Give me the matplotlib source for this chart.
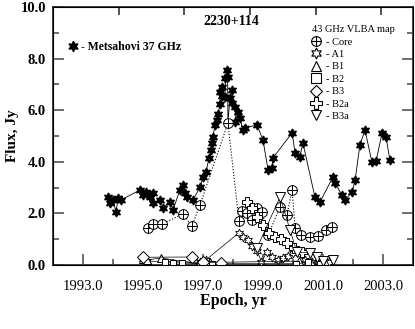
import numpy as np
import matplotlib
matplotlib.use("Agg")
import matplotlib.pyplot as plt
from matplotlib.path import Path
from matplotlib.lines import Line2D

plt.rcParams['font.family'] = ['Liberation Serif', 'DejaVu Serif']

# Metsahovi 37 GHz
met_t = [1993.83, 1993.90, 1994.00, 1994.10, 1994.17, 1994.27, 1994.90, 1995.00, 1995.10,
         1995.23, 1995.33, 1995.35, 1995.57, 1995.67, 1995.90, 1996.00, 1996.23, 1996.33,
         1996.40, 1996.47, 1996.67, 1996.90, 1997.00, 1997.10, 1997.20, 1997.27, 1997.30,
         1997.33, 1997.40, 1997.47, 1997.50, 1997.57, 1997.58, 1997.63, 1997.65, 1997.73,
         1997.75, 1997.80, 1997.82, 1997.83, 1997.90, 1997.97, 1997.98, 1998.07, 1998.08,
         1998.17, 1998.23, 1998.33, 1998.40, 1998.80, 1999.00, 1999.17, 1999.30, 1999.33,
         1999.97, 2000.07, 2000.23, 2000.33, 2000.73, 2000.90, 2001.33, 2001.40, 2001.63,
         2001.73, 2001.97, 2002.07, 2002.23, 2002.40, 2002.63, 2002.77, 2002.97, 2003.10,
         2003.23]
met_f = [2.64, 2.40, 2.52, 2.05, 2.60, 2.52, 2.91, 2.71, 2.83,
         2.64, 2.79, 2.40, 2.52, 2.21, 2.44, 2.13, 2.91, 3.10,
         2.79, 2.64, 2.52, 3.02, 3.41, 3.60, 4.15, 4.46, 4.73,
         4.96, 5.43, 5.62, 5.85, 6.24, 6.71, 6.55, 6.90, 6.51,
         7.25, 7.56, 7.29, 5.50, 6.47, 6.78, 6.28, 6.12, 5.54,
         5.93, 5.70, 5.23, 5.31, 5.43, 4.84, 3.68, 3.76, 4.15,
         5.12, 4.34, 4.19, 4.73, 2.64, 2.44, 3.41, 3.18, 2.71,
         2.52, 2.83, 3.29, 4.65, 5.23, 3.99, 4.03, 5.12, 4.96,
         4.07]

# 43 GHz VLBA components
core_t = [1995.17, 1995.33, 1995.63, 1996.33, 1996.63, 1996.90, 1997.83, 1998.20, 1998.30,
          1998.47, 1998.63, 1998.80, 1998.97, 1999.17, 1999.57, 1999.80, 1999.97, 2000.07,
          2000.27, 2000.57, 2000.83, 2001.10, 2001.30]
core_f = [1.43, 1.59, 1.59, 1.98, 1.51, 2.33, 5.50, 1.70, 2.10,
          2.02, 1.74, 2.21, 2.05, 1.16, 2.25, 1.94, 2.91, 1.43,
          1.16, 1.09, 1.12, 1.36, 1.47]

a1_t = [1995.00, 1995.15, 1996.90, 1997.10, 1998.20, 1998.35, 1998.50, 1998.65, 1998.80,
        1998.95, 1999.13, 1999.30, 1999.50, 1999.67, 1999.83, 2000.00, 2000.40, 2000.65,
        2000.85, 2001.05, 2001.20]
a1_f = [0.25, 0.15, 0.10, 0.20, 1.25, 1.10, 0.95, 0.75, 0.55,
        0.12, 0.50, 0.31, 0.19, 0.27, 0.35, 0.45, 0.20, 0.12,
        0.25, 0.15, 0.10]

b1_t = [1995.00, 1995.15, 1995.60, 1996.85, 1997.00, 1997.10, 1997.25, 2000.20, 2000.60,
        2000.90, 2001.10]
b1_f = [0.25, 0.20, 0.27, 0.05, 0.08, 0.10, 0.10, 0.15, 0.10, 0.10, 0.05]

b2_t = [1995.75, 1996.00, 1996.30, 1996.90, 1997.10, 1997.30, 2000.10, 2000.50, 2000.90]
b2_f = [0.10, 0.08, 0.08, 0.05, 0.05, 0.05, 0.05, 0.10, 0.05]

b3_t = [1995.00, 1996.63, 1997.00, 1997.60]
b3_f = [0.30, 0.31, 0.10, 0.08]

b2a_t = [1998.47, 1998.63, 1998.80, 1999.00, 1999.20, 1999.40, 1999.60, 1999.80, 2000.05,
         2000.30]
b2a_f = [2.44, 2.20, 1.85, 1.55, 1.25, 1.10, 1.00, 0.85, 0.65, 0.50]

b3a_t = [1998.80, 1999.57, 1999.90, 2000.13, 2000.57, 2000.80, 2001.00, 2001.33]
b3a_f = [0.66, 2.64, 1.36, 0.50, 0.47, 0.30, 0.15, 0.20]

# markers
circ = Path.unit_circle()
cross = Path([(-1, 0), (1, 0), (0, -1), (0, 1)],
             [Path.MOVETO, Path.LINETO, Path.MOVETO, Path.LINETO])
core_marker = Path.make_compound_path(circ, cross)
star6 = (6, 1, 0)

fig = plt.figure(figsize=(4.15, 3.29), dpi=100)
ax = fig.add_axes([53/415, 64/329, 360/415, 258/329])

ax.plot(met_t, met_f, '-', color='black', lw=0.6, marker=star6, ms=6.5,
        mfc='black', mec='black', zorder=3)
ax.plot(core_t, core_f, ':', color='black', lw=0.8, marker=core_marker, ms=7,
        mfc='white', mec='black', mew=0.7, zorder=4)
ax.plot(a1_t, a1_f, '-', color='black', lw=0.5, marker=star6, ms=6.5,
        mfc='white', mec='black', mew=0.6, zorder=4)
ax.plot(b1_t, b1_f, '-', color='black', lw=0.5, marker='^', ms=6,
        mfc='white', mec='black', mew=0.7, zorder=4)
ax.plot(b2_t, b2_f, '-', color='black', lw=0.5, marker='s', ms=5,
        mfc='white', mec='black', mew=0.7, zorder=4)
ax.plot(b3_t, b3_f, '-', color='black', lw=0.5, marker='D', ms=6,
        mfc='white', mec='black', mew=0.7, zorder=4)
ax.plot(b2a_t, b2a_f, '-', color='black', lw=0.5, marker='P', ms=7,
        mfc='white', mec='black', mew=0.7, zorder=4)
ax.plot(b3a_t, b3a_f, '-', color='black', lw=0.5, marker='v', ms=7,
        mfc='white', mec='black', mew=0.7, zorder=4)

ax.set_xlim(1992, 2004)
ax.set_ylim(0, 10)
ax.set_xticks([1993, 1995, 1997, 1999, 2001, 2003])
ax.set_xticks([1994, 1996, 1998, 2000, 2002], minor=True)
ax.set_xticklabels(['1993.0', '1995.0', '1997.0', '1999.0', '2001.0', '2003.0'], fontsize=10.5)
ax.set_yticks([0, 2, 4, 6, 8, 10])
ax.set_yticks([1, 3, 5, 7, 9], minor=True)
ax.set_yticklabels(['0.0', '2.0', '4.0', '6.0', '8.0', '10.0'], fontsize=10.5, fontweight='bold')
ax.tick_params(which='major', direction='in', length=8, width=1.2, color='#555555',
               right=True, pad=5)
ax.tick_params(which='minor', direction='in', length=4.5, width=1.2, color='#555555',
               right=True)
ax.tick_params(axis='x', pad=11)
for s in ax.spines.values():
    s.set_linewidth(1.3)
    s.set_color('#333333')

top = ax.twiny()
top.set_xlim(0, 5.48)
top.set_xticks([1, 2, 3, 4, 5])
top.set_xticklabels([])
top.tick_params(direction='in', length=6, width=1.2, color='#333333')

ax.set_xlabel('Epoch, yr', fontsize=11.5, fontweight='bold', labelpad=0)
ax.set_ylabel('Flux, Jy', fontsize=11, fontweight='bold', labelpad=1)
ax.text(0.495, 0.945, '2230+114', transform=ax.transAxes, fontsize=10,
        fontweight='bold', ha='center', va='center')

h_met = Line2D([], [], ls='none', marker=star6, ms=7.5, mfc='black', mec='black')
leg1 = ax.legend([h_met], ['- Metsahovi 37 GHz'], loc='center left',
                 bbox_to_anchor=(0.025, 0.845), frameon=False, handlelength=0.8,
                 handletextpad=0.3, borderpad=0, prop={'size': 8.5, 'weight': 'bold'})
ax.add_artist(leg1)

kw = dict(ls='none', mfc='white', mec='black', mew=0.8)
handles = [Line2D([], [], marker=core_marker, ms=7, **kw),
           Line2D([], [], marker=star6, ms=8, **kw),
           Line2D([], [], marker='^', ms=7.5, **kw),
           Line2D([], [], marker='s', ms=6.5, **kw),
           Line2D([], [], marker='D', ms=6.5, **kw),
           Line2D([], [], marker='P', ms=8, **kw),
           Line2D([], [], marker='v', ms=7.5, **kw)]
labels = ['- Core', '- A1', '- B1', '- B2', '- B3', '- B2a', '- B3a']
leg2 = ax.legend(handles, labels, title='43 GHz VLBA map', loc='upper left',
                 bbox_to_anchor=(0.705, 0.95), frameon=False, handlelength=0.8,
                 handletextpad=0.5, borderpad=0, labelspacing=0.3,
                 prop={'size': 7.5}, title_fontsize=7.5)
leg2._legend_box.align = 'left'

fig.savefig('out.png', dpi=100)
